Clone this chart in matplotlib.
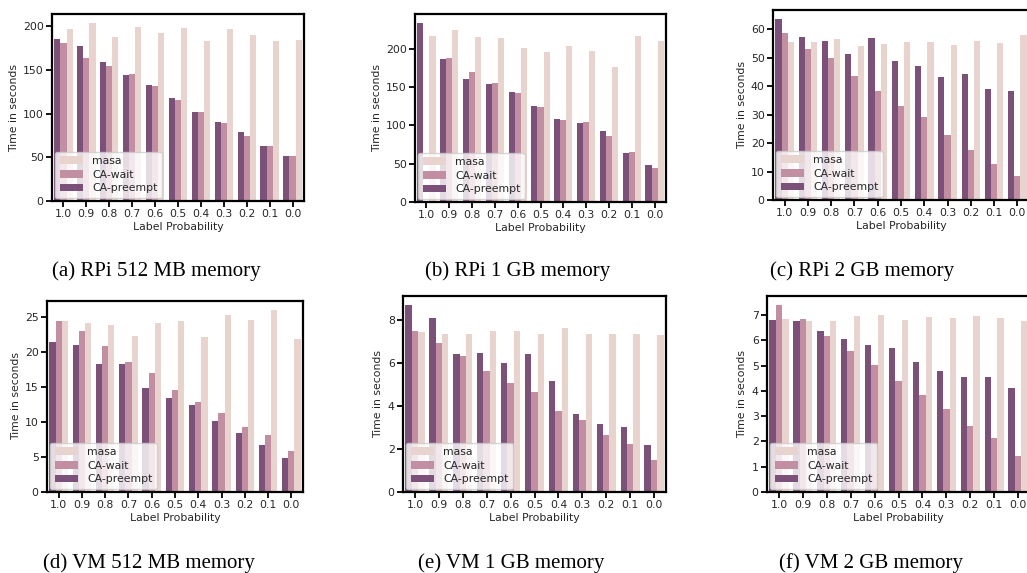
import numpy as np
import matplotlib
matplotlib.use("Agg")
import matplotlib.pyplot as plt

# === DATA ===
probs = ["1.0", "0.9", "0.8", "0.7", "0.6", "0.5", "0.4", "0.3", "0.2", "0.1", "0.0"]
series_names = ["masa", "CA-wait", "CA-preempt"]

rpi512_masa = [197, 204, 188, 199, 193, 198, 183, 197, 190, 183, 184]
rpi512_wait = [181, 164, 155, 146, 132, 116, 102, 89, 75, 63, 51]
rpi512_preempt = [186, 178, 159, 144, 133, 118, 102, 90, 79, 63, 52]

rpi1g_masa = [217, 225, 216, 214, 201, 196, 204, 197, 176, 217, 210]
rpi1g_wait = [np.nan, 188, 170, 155, 142, 124, 107, 104, 86, 65, 45]
rpi1g_preempt = [234, 187, 161, 154, 144, 125, 108, 103, 93, 64, 49]

rpi2g_masa = [55.6, 55.6, 56.6, 54.2, 54.9, 55.6, 55.6, 54.5, 55.9, 55.2, 58.0]
rpi2g_wait = [58.7, 53.1, 50.0, 43.7, 38.4, 33.2, 29.3, 23.0, 17.7, 12.8, 8.3]
rpi2g_preempt = [63.6, 57.4, 55.9, 51.4, 57.0, 48.9, 47.2, 43.3, 44.4, 39.1, 38.4]

vm512_masa = [24.4, 24.1, 23.9, 22.3, 24.1, 24.4, 22.1, 25.3, 24.6, 26.0, 21.9]
vm512_wait = [24.4, 23.0, 20.8, 18.6, 17.0, 14.6, 12.8, 11.3, 9.3, 8.1, 5.8]
vm512_preempt = [21.4, 21.0, 18.3, 18.3, 14.8, 13.4, 12.4, 10.1, 8.5, 6.7, 4.8]

vm1g_masa = [7.41, 7.36, 7.36, 7.46, 7.46, 7.36, 7.60, 7.36, 7.32, 7.32, 7.27]
vm1g_wait = [7.46, 6.90, 6.33, 5.63, 5.07, 4.65, 3.77, 3.35, 2.65, 2.23, 1.48]
vm1g_preempt = [8.67, 8.06, 6.43, 6.47, 6.00, 6.43, 5.17, 3.63, 3.16, 3.02, 2.18]

vm2g_masa = [6.83, 6.75, 6.75, 6.95, 6.99, 6.79, 6.91, 6.87, 6.95, 6.87, 6.75]
vm2g_wait = [7.38, 6.83, 6.15, 5.59, 5.03, 4.40, 3.84, 3.28, 2.60, 2.13, 1.41]
vm2g_preempt = [6.79, 6.75, 6.35, 6.03, 5.83, 5.71, 5.15, 4.79, 4.56, 4.56, 4.12]

captions = ["(a) RPi 512 MB memory", "(b) RPi 1 GB memory", "(c) RPi 2 GB memory",
            "(d) VM 512 MB memory", "(e) VM 1 GB memory", "(f) VM 2 GB memory"]

panels = [
    (rpi512_masa, rpi512_wait, rpi512_preempt),
    (rpi1g_masa, rpi1g_wait, rpi1g_preempt),
    (rpi2g_masa, rpi2g_wait, rpi2g_preempt),
    (vm512_masa, vm512_wait, vm512_preempt),
    (vm1g_masa, vm1g_wait, vm1g_preempt),
    (vm2g_masa, vm2g_wait, vm2g_preempt),
]

# === STYLE ===
colors = {"masa": "#e9d3cf", "CA-wait": "#c28ea1", "CA-preempt": "#7b5079"}
plt.rcParams["font.family"] = "DejaVu Sans"
plt.rcParams["font.size"] = 7.8
plt.rcParams["text.color"] = "#262626"
plt.rcParams["xtick.color"] = "black"
plt.rcParams["ytick.color"] = "black"
plt.rcParams["xtick.labelcolor"] = "#262626"
plt.rcParams["ytick.labelcolor"] = "#262626"
plt.rcParams["axes.labelcolor"] = "#262626"

W, H = 1027, 573
fig = plt.figure(figsize=(W / 100, H / 100), dpi=100)

# axes boxes in pixels: left, top, right, bottom
boxes = [
    (52, 14, 304, 201),
    (415, 14, 666, 202),
    (773, 10, 1029, 200),
    (47, 301, 303, 492),
    (403, 296, 666, 492),
    (767, 296, 1030, 492),
]
cap_pos = [(156, 271), (518, 271), (862, 271), (149, 563), (511, 563), (871, 563)]

x = np.arange(len(probs))
bw = 0.8 / 3

for i, (vals, box) in enumerate(zip(panels, boxes)):
    l, t, r, b = box
    ax = fig.add_axes([l / W, 1 - b / H, (r - l) / W, (b - t) / H])
    masa, wait, preempt = vals
    # preempt left, wait middle, masa right (reversed hue order)
    ax.bar(x - bw, preempt, bw, color=colors["CA-preempt"], label="CA-preempt", linewidth=0)
    ax.bar(x, wait, bw, color=colors["CA-wait"], label="CA-wait", linewidth=0)
    ax.bar(x + bw, masa, bw, color=colors["masa"], label="masa", linewidth=0)
    ax.set_xlim(-0.5, len(probs) - 0.5)
    ax.set_xticks(x)
    ax.set_xticklabels(probs)
    ax.set_xlabel("Label Probability", labelpad=2)
    ax.set_ylabel("Time in seconds", labelpad=3)
    for sp in ax.spines.values():
        sp.set_linewidth(1.6)
        sp.set_color("black")
    ax.tick_params(length=4, width=1.3, pad=2)
    h, lab = ax.get_legend_handles_labels()
    ax.legend(h[::-1], lab[::-1], loc="lower left", fontsize=7.8,
              borderaxespad=0.3, handlelength=2.2, labelspacing=0.35)

    cx, cy = cap_pos[i]
    fig.text(cx / W, 1 - cy / H, captions[i], ha="center", va="center",
             family="Liberation Serif", fontsize=15, color="black")

fig.savefig("out.png", dpi=100)
